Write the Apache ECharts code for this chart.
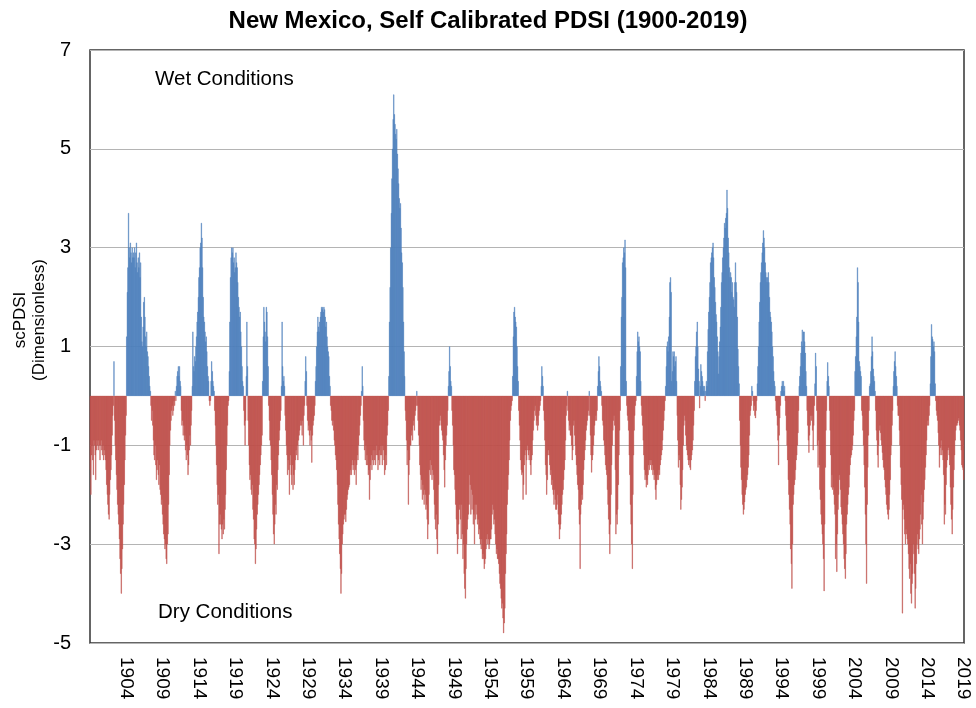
<!DOCTYPE html>
<html>
<head>
<meta charset="utf-8">
<title>New Mexico, Self Calibrated PDSI (1900-2019)</title>
<script src="https://cdn.jsdelivr.net/npm/echarts@6/dist/echarts.min.js"></script>
<style>
  html, body { margin: 0; padding: 0; background: #fff; }
  #chart { width: 976px; height: 708px; }
</style>
</head>
<body>
<div id="chart"></div>
<script>
// monthly scPDSI, one row per year (Jan..Dec)
var pdsi1900s = [
  -1.5, -2.0, -1.2, -1.0, -1.3, -1.6, -0.9, -1.0, -1.2, -1.7, -1.1, -0.9,
  -1.0, -1.1, -0.9, -1.0, -1.3, -1.0, -0.9, -1.1, -1.2, -1.0, -1.3, -1.1,
  -1.2, -1.3, -1.5, -1.8, -2.0, -2.2, -2.4, -2.5, -2.0, -1.7, -1.5, -1.2,
  -0.8, -0.4, -0.2, 0.7, -0.5, -1.0, -1.3, -1.6, -1.9, -2.2, -2.4, -2.6,
  -2.9, -3.3, -3.6, -4.0, -3.5, -3.1, -2.6, -2.2, -1.8, -1.3, -0.8, -0.4,
  1.2, 2.1, 2.6, 3.7, 3.0, 2.8, 3.1, 2.9, 2.7, 3.0, 2.8, 2.9,
  2.8, 3.0, 2.6, 2.9, 3.1, 2.7, 2.5, 2.8, 2.6, 2.9, 2.4, 2.7,
  1.6, 1.1, 1.0, 1.4, 1.9, 2.0, 1.6, 1.2, 1.0, 1.3, 0.9, 0.8,
  0.6, 0.4, 0.2, 0.1, -0.2, -0.5, -0.3, -0.6, -0.9, -1.2, -1.3, -1.0,
  -1.4, -1.7, -1.5, -1.3, -1.6, -1.8, -1.4, -1.9, -2.0, -2.2, -2.1, -2.4
];
var pdsi1910s = [
  -2.6, -2.8, -2.9, -3.1, -3.0, -3.3, -3.4, -3.0, -2.8, -2.2, -1.6, -1.0,
  -0.7, -0.5, -0.3, -0.2, -0.4, -0.3, -0.1, -0.2, 0.1, -0.1, 0.2, 0.4,
  0.5, 0.6, 0.4, 0.6, 0.3, 0.2, -0.3, -0.6, -0.5, -0.8, -0.6, -0.9,
  -0.8, -1.1, -1.3, -1.0, -1.2, -1.6, -1.4, -1.1, -0.8, -1.0, -0.6, -0.3,
  0.2, 1.3, 0.6, 0.5, 0.8, 0.7, 1.0, 1.2, 1.5, 1.7, 2.0, 2.4,
  2.6, 3.0, 3.1, 3.5, 3.2, 2.6, 2.0, 1.6, 1.5, 1.3, 1.1, 1.2,
  0.9, 0.6, 0.4, 0.3, -0.1, -0.2, -0.1, 0.3, 0.7, 0.5, 0.3, 0.2,
  0.1, -0.3, -0.6, -1.0, -1.4, -1.8, -2.2, -2.0, -3.2, -2.6, -2.4, -2.6,
  -2.7, -2.9, -2.6, -2.8, -2.5, -2.7, -2.3, -2.0, -1.5, -1.0, -0.6, -0.2,
  -0.1, 0.5, 1.5, 2.4, 2.8, 3.0, 2.9, 3.0, 2.7, 2.8, 2.5, 2.6
];
var pdsi1920s = [
  2.9, 2.7, 2.6, 2.3, 2.0, 1.8, 1.6, 1.7, 1.3, 1.0, 0.6, 0.3,
  0.2, -0.3, -0.6, -1.0, -0.5, 0.4, 1.5, 0.6, -0.5, -1.0, -1.4, -1.7,
  -1.6, -1.9, -2.0, -1.8, -2.3, -2.5, -2.9, -3.0, -3.4, -3.1, -2.7, -2.4,
  -2.2, -2.0, -1.8, -1.6, -1.4, -1.2, -1.0, -0.8, 0.3, 1.2, 1.8, 1.5,
  1.3, 1.1, 1.8, 1.7, 1.2, 0.6, -0.2, -0.5, -0.9, -1.0, -1.3, -1.6,
  -2.0, -2.4, -2.8, -3.0, -2.6, -2.2, -2.4, -1.8, -1.9, -1.5, -1.2, -0.9,
  -0.7, -0.5, -0.3, 0.2, 1.5, 0.6, 0.3, 0.4, 0.2, -0.4, -0.7, -1.0,
  -1.2, -1.6, -1.3, -1.5, -2.0, -1.4, -1.2, -1.6, -1.8, -1.4, -1.9, -1.6,
  -1.8, -1.5, -1.3, -1.1, -1.2, -1.0, -1.3, -0.9, -0.8, -0.7, -0.6, -0.5,
  -0.6, -0.8, -0.5, -1.0, -0.4, -0.2, 0.3, 0.8, 0.5, -0.2, -0.5, -0.7
];
var pdsi1930s = [
  -0.6, -0.8, -1.0, -0.7, -0.9, -1.35, -0.8, -0.6, -0.5, -0.4, -0.2, 0.3,
  0.6, 1.0, 1.3, 1.6, 1.4, 1.3, 1.5, 1.6, 1.7, 1.8, 1.75, 1.8,
  1.7, 1.8, 1.75, 1.6, 1.4, 1.5, 1.2, 1.0, 0.9, 0.8, 0.4, 0.2,
  -0.2, -0.3, -0.5, -0.6, -0.5, -0.7, -0.9, -1.0, -1.2, -1.3, -1.5, -1.8,
  -2.2, -2.6, -2.9, -3.2, -3.5, -4.0, -3.6, -3.0, -2.8, -2.6, -2.5, -2.4,
  -2.4, -2.55, -2.3, -2.1, -2.0, -1.9, -1.85, -1.8, -1.6, -1.5, -1.6, -1.4,
  -1.3, -1.5, -1.4, -1.6, -1.3, -1.5, -1.8, -1.4, -1.2, -1.3, -1.0, -0.8,
  -0.6, -0.4, -0.2, 0.1, 0.6, 0.2, -0.5, -0.9, -1.1, -1.3, -1.0, -1.4,
  -1.2, -1.4, -1.6, -1.5, -2.1, -1.7, -1.4, -1.2, -1.5, -1.3, -1.1, -1.4,
  -1.3, -1.1, -1.4, -1.2, -1.0, -1.2, -1.5, -1.3, -1.1, -1.4, -1.2, -1.0
];
var pdsi1940s = [
  -1.2, -1.4, -1.0, -1.1, -1.3, -1.6, -1.5, -1.2, -1.4, -0.8, -0.6, -0.3,
  0.4, 1.5, 2.2, 3.0, 3.7, 4.4, 5.0, 5.6, 6.1, 5.7, 5.5, 5.3,
  5.2, 5.4, 4.9, 4.6, 4.3, 4.0, 3.8, 3.9, 3.4, 2.9, 2.7, 2.2,
  1.5, 0.9, 0.4, -0.3, -0.5, -0.9, -1.4, -1.1, -2.2, -1.6, -1.3, -1.0,
  -1.0, -0.8, -0.7, -0.9, -0.6, -0.5, -0.7, -0.4, -0.3, -0.2, 0.1, -0.2,
  -0.5, -0.8, -1.0, -1.4, -1.6, -1.9, -1.7, -2.1, -1.8, -2.0, -2.2, -1.9,
  -2.0, -2.3, -2.2, -2.5, -2.9, -2.6, -2.0, -1.5, -1.3, -1.6, -1.4, -1.7,
  -1.5, -1.6, -1.9, -2.2, -2.5, -2.7, -2.4, -2.9, -3.2, -2.6, -1.8, -0.6,
  -0.5, -0.4, -0.6, -0.7, -0.8, -0.9, -1.2, -1.5, -1.85, -1.3, -1.0, -0.8,
  -0.6, -0.3, 0.2, 0.5, 1.0, 0.6, 0.3, 0.2, -0.3, -0.6, -1.0, -1.5
];
var pdsi1950s = [
  -1.6, -1.9, -2.2, -2.5, -2.8, -3.2, -2.9, -2.6, -2.3, -2.2, -2.5, -2.9,
  -2.2, -2.8, -3.3, -3.0, -3.6, -3.9, -4.1, -3.5, -3.0, -2.7, -2.5, -2.4,
  -2.2, -1.6, -1.8, -2.4, -1.9, -2.3, -2.0, -2.6, -2.4, -3.0, -2.2, -2.5,
  -2.2, -2.4, -2.6, -2.5, -2.8, -2.7, -2.9, -3.0, -3.1, -2.9, -3.3, -3.2,
  -3.3, -3.5, -3.4, -3.3, -3.1, -2.9, -2.8, -3.0, -2.9, -3.1, -3.0, -2.9,
  -2.9, -2.7, -2.4, -2.2, -2.3, -2.6, -2.5, -2.8, -3.0, -3.2, -3.1, -3.3,
  -3.3, -3.4, -3.6, -3.8, -3.9, -4.1, -4.3, -4.2, -4.5, -4.8, -4.6, -4.3,
  -3.6, -3.2, -2.8, -2.2, -1.9, -1.6, -1.3, -0.9, -0.5, -0.3, -0.2, -0.1,
  0.4, 1.2, 1.7, 1.8, 1.6, 1.5, 1.4, 1.0, 0.6, 0.3, -0.3, -0.6,
  -0.9, -1.3, -1.5, -1.6, -1.55, -2.1, -1.8, -1.4, -1.2, -1.1, -2.0, -1.3
];
var pdsi1960s = [
  -1.0, -1.1, -1.2, -1.3, -1.1, -1.4, -1.6, -1.3, -1.2, -0.9, -0.7, -0.5,
  -0.3, -0.2, -0.4, -0.6, -0.5, -0.7, -0.6, -0.4, -0.3, -0.2, -0.1, 0.2,
  0.6, 0.4, 0.2, -0.3, -0.5, -0.9, -1.4, -1.6, -2.0, -1.7, -1.2, -1.1,
  -1.2, -1.4, -1.6, -1.5, -1.8, -1.7, -1.9, -2.0, -2.2, -1.9, -2.1, -2.3,
  -2.3, -2.2, -2.0, -2.4, -2.6, -2.9, -2.7, -2.6, -2.4, -2.2, -2.0, -1.9,
  -1.7, -1.5, -1.3, -0.9, -0.4, -0.2, 0.1, -0.3, -0.5, -0.7, -0.6, -0.8,
  -0.8, -1.0, -1.3, -1.1, -0.6, -0.5, -0.8, -1.0, -1.2, -1.4, -1.6, -1.8,
  -1.9, -2.3, -2.6, -3.5, -2.4, -2.2, -2.0, -2.1, -1.8, -1.5, -1.3, -1.1,
  -0.9, -0.7, -0.6, -0.5, -0.4, -0.3, 0.1, -0.4, -0.8, -1.2, -1.55, -1.3,
  -1.2, -1.0, -0.8, -0.6, -0.5, -0.4, -0.5, -0.3, 0.2, 0.5, 0.8, 0.6
];
var pdsi1970s = [
  0.3, 0.2, 0.1, -0.2, -0.5, -0.6, -0.9, -1.0, -1.2, -1.4, -1.5, -1.6,
  -1.9, -2.2, -2.5, -2.8, -3.2, -2.6, -2.0, -1.4, -1.0, -0.7, -0.5, -0.4,
  -0.6, -1.5, -2.8, -2.4, -2.6, -2.3, -1.8, -1.2, -0.7, -0.3, 0.6, 1.6,
  2.0, 2.7, 2.8, 3.0, 2.9, 3.16, 2.6, 0.3, -0.2, -0.4, -0.5, -0.7,
  -1.2, -1.6, -2.2, -2.6, -3.0, -3.5, -2.0, -1.2, -0.7, -0.4, -0.2, -0.1,
  0.4, 0.9, 1.3, 1.1, 1.2, 1.0, 0.9, 0.3, -0.2, -0.4, -0.6, -0.9,
  -1.2, -1.5, -1.7, -1.6, -1.85, -1.7, -1.8, -1.6, -1.4, -1.5, -1.3, -1.4,
  -1.3, -1.5, -1.4, -1.6, -1.5, -1.7, -1.6, -1.9, -2.1, -1.8, -1.7, -1.6,
  -1.7, -1.5, -1.6, -1.4, -1.3, -1.2, -1.1, -0.9, -0.7, -0.5, -0.3, -0.1,
  0.2, 0.6, 1.0, 1.1, 0.9, 1.2, 1.6, 2.3, 2.4, 2.1, 0.3, 0.5
];
var pdsi1980s = [
  0.9, 0.8, 0.9, 0.6, 0.7, 0.8, 0.3, -0.4, -0.9, -1.45, -1.2, -1.3,
  -1.8, -2.3, -2.1, -1.85, -1.5, -1.0, -0.6, -0.4, -0.5, -0.8, -1.0, -1.1,
  -1.2, -1.3, -1.4, -1.3, -1.45, -1.5, -1.3, -1.2, -1.1, -0.9, -0.6, -0.3,
  0.3, 0.8, 1.0, 1.3, 1.5, 1.0, 0.55, 0.3, -0.25, 0.2, 0.64, 0.5,
  0.4, 0.3, 0.2, 0.1, 0.2, -0.1, 0.1, 0.3, 0.2, 0.9, 1.35, 1.7,
  2.0, 2.3, 2.7, 2.8, 2.9, 3.0, 3.1, 2.8, 2.4, 2.2, 1.9, 1.65,
  1.5, 1.2, 0.9, 0.45, 0.8, 1.1, 1.4, 1.8, 2.3, 2.5, 2.8, 3.0,
  3.2, 3.5, 3.4, 3.6, 3.7, 4.17, 3.8, 3.2, 2.9, 2.6, 2.4, 2.5,
  2.4, 2.1, 2.3, 2.0, 1.95, 1.8, 2.3, 2.7, 2.3, 2.1, 1.6, 0.95,
  0.6, 0.25, -0.5, -1.0, -1.45, -1.7, -2.0, -2.2, -2.4, -2.3, -2.15, -2.0
];
var pdsi1990s = [
  -1.9, -1.85, -1.7, -1.6, -1.45, -1.2, -0.8, -0.4, -0.3, -0.2, 0.2, 0.1,
  -0.1, -0.3, -0.2, -0.4, -0.45, -0.3, -0.1, 0.25, 0.6, 1.0, 1.5, 1.9,
  2.3, 2.5, 2.7, 2.9, 3.1, 3.35, 3.2, 3.0, 2.7, 2.5, 2.4, 2.3,
  2.4, 2.5, 2.3, 2.0, 1.7, 1.6, 1.5, 1.3, 1.0, 0.8, 0.5, 0.3,
  0.2, -0.1, -0.3, -0.4, -0.6, -0.9, -1.4, -0.8, -0.45, -0.2, 0.1, 0.2,
  0.3, 0.2, 0.3, 0.1, 0.2, -0.1, -0.4, -0.7, -1.0, -1.3, -1.7, -2.0,
  -2.3, -2.6, -3.1, -3.4, -3.9, -3.0, -2.2, -2.0, -1.8, -1.7, -1.5, -1.3,
  -1.2, -1.0, -0.75, -0.3, 0.2, 0.4, 0.6, 0.87, 1.1, 1.34, 1.0, 1.3,
  1.3, 1.1, 0.87, 0.5, 0.2, -0.3, -0.6, -0.9, -1.15, -0.8, -0.6, -0.4,
  -0.5, -0.4, -0.7, -1.1, -0.6, -0.2, 0.25, 0.87, 0.6, -0.3, -1.0, -1.45
];
var pdsi2000s = [
  -0.9, -1.4, -1.9, -2.1, -2.4, -2.6, -2.8, -3.0, -3.3, -3.95, -2.6, -1.45,
  -0.7, -0.3, 0.3, 0.68, 0.4, 0.2, -0.3, -0.7, -1.2, -1.85, -1.6, -1.9,
  -1.85, -2.0, -2.2, -2.4, -3.3, -3.0, -3.56, -2.8, -2.3, -2.0, -1.6, -1.7,
  -1.9, -2.25, -2.4, -2.6, -2.8, -3.0, -3.3, -3.5, -3.7, -3.2, -2.6, -2.4,
  -2.2, -2.0, -1.85, -1.6, -1.4, -1.25, -1.2, -1.1, -1.0, -0.8, -0.5, -0.3,
  0.5, 0.8, 1.2, 1.6, 2.6, 2.3, 1.5, 0.7, 0.6, 0.5, 0.4, -0.3,
  -0.4, -0.7, -1.0, -1.4, -1.85, -2.4, -3.0, -3.8, -2.2, -1.45, -0.8, -0.3,
  0.2, 0.25, 0.5, 0.8, 1.2, 0.9, 0.55, 0.4, 0.3, 0.1, -0.3, -0.7,
  -0.9, -1.2, -1.45, -1.0, -0.7, -0.6, -0.75, -0.9, -1.0, -1.15, -1.3, -1.45,
  -1.5, -1.7, -1.85, -2.0, -2.2, -2.3, -2.4, -2.5, -2.3, -2.0, -1.7, -1.2
];
var pdsi2010s = [
  -1.0, -0.6, -0.3, 0.2, 0.5, 0.7, 0.9, 0.6, 0.4, 0.2, -0.2, -0.4,
  -0.4, -0.7, -1.0, -1.45, -1.8, -2.1, -4.4, -2.3, -2.2, -2.5, -2.8, -3.0,
  -2.7, -2.8, -2.9, -3.0, -3.2, -3.5, -3.7, -3.4, -4.0, -4.2, -3.8, -3.6,
  -3.0, -3.2, -3.6, -4.3, -3.9, -3.4, -3.0, -2.8, -3.1, -3.2, -2.9, -2.7,
  -2.4, -2.0, -2.6, -3.0, -2.5, -2.15, -1.9, -1.7, -1.45, -1.2, -0.9, -0.6,
  -0.5, -0.6, -0.4, -0.2, 0.25, 0.8, 1.45, 1.2, 1.15, 1.0, 1.1, 0.9,
  0.25, -0.1, -0.3, -0.4, -0.5, -0.75, -1.0, -1.45, -1.2, -1.05, -0.9, -1.2,
  -1.1, -1.3, -1.6, -2.6, -2.2, -2.4, -1.8, -1.45, -1.3, -1.1, -1.05, -1.2,
  -1.4, -1.85, -2.2, -2.5, -2.8, -2.3, -1.85, -1.5, -1.2, -0.9, -0.7, -0.6,
  -0.6, -0.55, -0.5, -0.45, -0.6, -0.7, -0.9, -1.1, -1.4, -1.45, -1.5, -1.7
];

var startYear = 1900;
// years whose December carries an axis label
var tickYears = [1904, 1909, 1914, 1919, 1924, 1929, 1934, 1939, 1944, 1949,
  1954, 1959, 1964, 1969, 1974, 1979, 1984, 1989, 1994, 1999, 2004, 2009, 2014, 2019];

var blue = '#4F81BD';
var red = '#C0504D';

var values = [].concat(pdsi1900s, pdsi1910s, pdsi1920s, pdsi1930s, pdsi1940s, pdsi1950s,
  pdsi1960s, pdsi1970s, pdsi1980s, pdsi1990s, pdsi2000s, pdsi2010s);

var months = [];
var wet = [];
var dry = [];
for (var i = 0; i < values.length; i++) {
  var y = startYear + Math.floor(i / 12);
  var m = (i % 12) + 1;
  months.push(y + '-' + (m < 10 ? '0' + m : m));
  wet.push(values[i] >= 0 ? values[i] : '-');
  dry.push(values[i] < 0 ? values[i] : '-');
}

var font = '"Liberation Sans", Arial, sans-serif';
var chart = echarts.init(document.getElementById('chart'));

chart.setOption({
  animation: false,
  backgroundColor: '#fff',
  title: {
    text: 'New Mexico, Self Calibrated PDSI (1900-2019)',
    left: 'center',
    top: 4,
    textStyle: { fontFamily: font, fontSize: 24, fontWeight: 'bold', color: '#000' }
  },
  grid: {
    left: 90, right: 12, top: 50, bottom: 65,
    show: true, borderColor: '#333', borderWidth: 1.5, backgroundColor: 'transparent'
  },
  xAxis: {
    type: 'category',
    data: months,
    axisLine: { show: false },
    axisTick: { show: false },
    axisLabel: {
      rotate: -90,
      margin: 14,
      fontFamily: font,
      fontSize: 19,
      color: '#000',
      interval: function (index, value) {
        return value.slice(5) === '12' && tickYears.indexOf(+value.slice(0, 4)) >= 0;
      },
      formatter: function (value) { return value.slice(0, 4); }
    },
    splitLine: { show: false }
  },
  yAxis: {
    type: 'value',
    min: -5,
    max: 7,
    interval: 2,
    axisLine: { show: false },
    axisTick: { show: false },
    axisLabel: { margin: 19, fontFamily: font, fontSize: 20, color: '#000' },
    splitLine: { lineStyle: { color: '#b4b4b4', width: 1 } }
  },
  graphic: [
    {
      type: 'text', x: 30, y: 320, rotation: Math.PI / 2,
      style: {
        text: 'scPDSI\n(Dimensionless)', font: '17px ' + font, fill: '#000',
        textAlign: 'center', textVerticalAlign: 'middle', lineHeight: 19
      }
    },
    {
      type: 'text', left: 155, top: 69,
      style: { text: 'Wet Conditions', font: '20.5px ' + font, fill: '#000' }
    },
    {
      type: 'text', left: 158, top: 602,
      style: { text: 'Dry Conditions', font: '20.5px ' + font, fill: '#000' }
    }
  ],
  series: [
    {
      name: 'Wet',
      type: 'bar',
      data: wet,
      barCategoryGap: '0%',
      barGap: '-100%',
      itemStyle: { color: blue, borderColor: blue, borderWidth: 0.4 }
    },
    {
      name: 'Dry',
      type: 'bar',
      data: dry,
      barCategoryGap: '0%',
      barGap: '-100%',
      itemStyle: { color: red, borderColor: red, borderWidth: 0.4 }
    }
  ]
});
</script>
</body>
</html>
